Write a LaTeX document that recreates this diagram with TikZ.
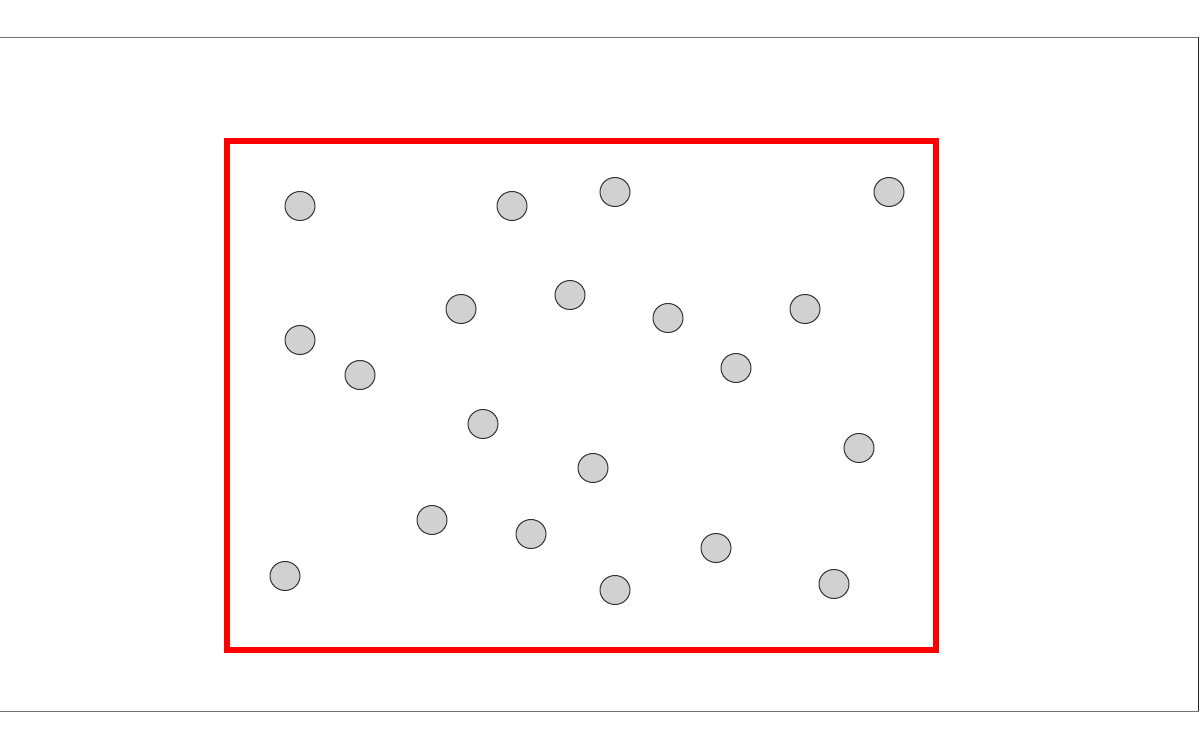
\documentclass[tikz,border=0pt]{standalone}
\usetikzlibrary{shapes.geometric}
\begin{document}
\begin{tikzpicture}[x=1pt,y=-1pt,
  dot/.style={ellipse,draw=black!80,fill=black!18,line width=1pt,minimum width=30pt,minimum height=29pt,inner sep=0pt},
  frame/.style={draw=red,line width=6pt},
  outer/.style={draw=black!55,line width=1pt}]
\useasboundingbox (0,0) rectangle (1200,750);
\coordinate (otl) at (-5,37);
\coordinate (otr) at (1198.5,37);
\coordinate (obr) at (1198.5,711);
\coordinate (obl) at (-5,711);
\draw[outer] (otl) -- (otr);
\draw[outer] (obl) -- (obr);
\draw[draw=black!85,line width=1pt] (otr) -- (obr);
\draw[frame] (226.5,140.5) rectangle (935.5,650);
\foreach \n/\x/\y in {a/300/206,b/512/206,c/615/192,d/889/192,
  e/461/309,f/570/295,g/668/318,h/805/309,
  i/300/340,j/360/375,k/736/368,
  l/483/424,m/593/468,n/859/448,
  o/432/520,p/531/534,q/716/548,
  r/285/576,s/615/590,t/834/584}
  \node[dot] (\n) at (\x,\y) {};
\end{tikzpicture}
\end{document}
